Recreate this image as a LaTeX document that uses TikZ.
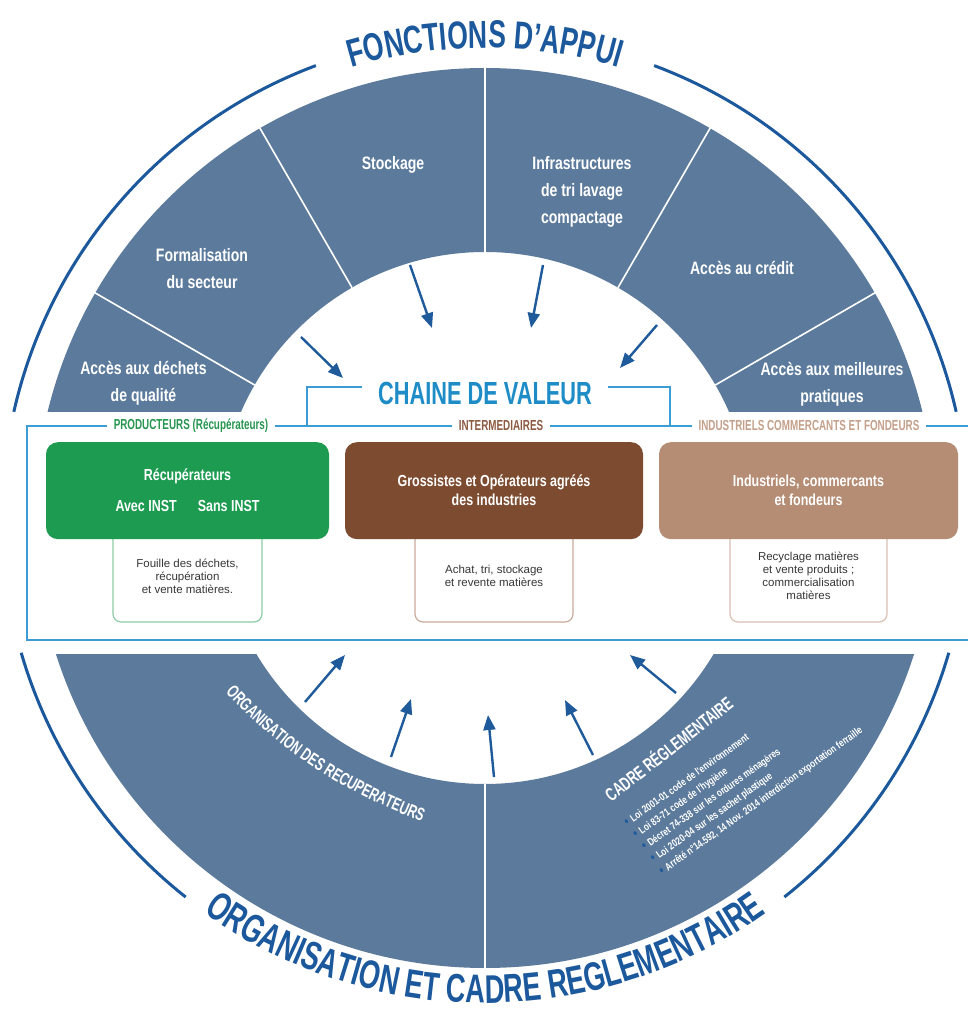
\documentclass[tikz,border=0pt]{standalone}
\usepackage{fontspec}
\setmainfont{Liberation Sans}
\newfontfamily\titlefont[FakeStretch=0.68]{Liberation Sans}
\newfontfamily\segfont[FakeStretch=0.78]{Liberation Sans}
\usepackage{tikz}
\usepackage{xcolor}
\usetikzlibrary{calc,positioning,arrows.meta,decorations.text}

\definecolor{bandblue}{RGB}{92,123,156}
\definecolor{titleblue}{RGB}{28,88,156}
\definecolor{arrowblue}{RGB}{31,90,155}
\definecolor{chainblue}{RGB}{30,140,198}
\definecolor{rectblue}{RGB}{60,156,212}
\definecolor{recgreen}{RGB}{29,155,80}
\definecolor{recgreenlt}{RGB}{140,203,165}
\definecolor{prodgreen}{RGB}{38,150,80}
\definecolor{grobrown}{RGB}{125,76,48}
\definecolor{grobrownlt}{RGB}{201,170,155}
\definecolor{interbrown}{RGB}{140,90,65}
\definecolor{indtan}{RGB}{181,140,116}
\definecolor{indtanlt}{RGB}{217,192,178}
\definecolor{indtantext}{RGB}{196,160,138}
\definecolor{notegray}{RGB}{55,55,55}

\newcommand\lawbul{{\color{arrowblue}\fontsize{14}{14}\selectfont\textbullet}\hspace{3pt}}

\begin{document}
\begin{tikzpicture}[x=1pt,y=1pt]
  \tikzstyle{band}=[fill=bandblue,even odd rule]
  \tikzstyle{divider}=[draw=white,line width=1.6pt]
  \tikzstyle{rim}=[draw=titleblue,line width=3pt]
  \tikzstyle{seg}=[text=white,align=center,font=\segfont\bfseries\fontsize{18}{27}\selectfont]
  \tikzstyle{arr}=[draw=arrowblue,line width=2.4pt,-{Triangle[length=15pt,width=12pt]}]
  \tikzstyle{stagelabel}=[fill=white,inner xsep=7pt,inner ysep=1pt,font=\titlefont\bfseries\fontsize{14.5}{15}\selectfont]
  \tikzstyle{card}=[rounded corners=12pt,text=white,align=center,minimum height=97pt,font=\segfont\bfseries\fontsize{16}{19}\selectfont]
  \tikzstyle{note}=[draw,line width=1.2pt,rounded corners=8pt,fill=white,text=notegray,align=center,minimum height=92pt,font=\fontsize{11.5}{13}\selectfont]

  \useasboundingbox (0,0) rectangle (968,1012);
  \fill[white] (0,0) rectangle (968,1012);
  \coordinate (C) at (485,494);

  % ring, upper half
  \begin{scope}
    \clip (0,600) rectangle (968,1012);
    \fill[band] (C) circle (450pt) (C) circle (266pt);
  \end{scope}
  % ring, lower half
  \begin{scope}
    \clip (0,0) rectangle (968,357);
    \fill[band] (C) circle (450pt) (C) circle (266pt);
  \end{scope}
  \draw[divider] ($(C)+(30:266pt)$) -- ($(C)+(30:452pt)$);
  \draw[divider] ($(C)+(60:266pt)$) -- ($(C)+(60:452pt)$);
  \draw[divider] ($(C)+(90:266pt)$) -- ($(C)+(90:452pt)$);
  \draw[divider] ($(C)+(120:266pt)$) -- ($(C)+(120:452pt)$);
  \draw[divider] ($(C)+(150:266pt)$) -- ($(C)+(150:452pt)$);
  \draw[divider] ($(C)+(270:266pt)$) -- ($(C)+(270:452pt)$);

  % thin outer rim
  \draw[rim] ($(C)+(110.5:483pt)$) arc[start angle=110.5,end angle=167.3,radius=483pt];
  \draw[rim] ($(C)+(69.5:483pt)$) arc[start angle=69.5,end angle=12.7,radius=483pt];
  \draw[rim] ($(C)+(196.2:483pt)$) arc[start angle=196.2,end angle=231.7,radius=483pt];
  \draw[rim] ($(C)+(343.8:483pt)$) arc[start angle=343.8,end angle=308.3,radius=483pt];

  % curved titles
  \path[decorate,decoration={text along path,text align=center,text color=titleblue,
      text={|\titlefont\bfseries\fontsize{39}{39}\selectfont|FONCTIONS D’APPUI}}]
    ($(C)+(130:470pt)$) arc[start angle=130,end angle=50,radius=470pt];
  \path[decorate,decoration={text along path,text align=center,text color=titleblue,
      text={|\titlefont\bfseries\fontsize{40}{40}\selectfont|ORGANISATION ET CADRE REGLEMENTAIRE}}]
    ($(C)+(200:485pt)$) arc[start angle=200,end angle=340,radius=485pt];

  % support functions
  \node[seg] (s1) at (143.5,628.5) {Accès aux déchets\\de qualité};
  \node[seg] (s2) at (202,743.5) {Formalisation\\du secteur};
  \node[seg] (s3) at (393,847) {Stockage};
  \node[seg] (s4) at (582,820) {Infrastructures\\de tri lavage\\compactage};
  \node[seg] (s5) at (742,744) {Accès au crédit};
  \node[seg] (s6) at (832,628) {Accès aux meilleures\\pratiques};

  % organisation and rules
  \path[decorate,decoration={text along path,text align=center,text color=white,
      text={|\titlefont\bfseries\fontsize{18}{18}\selectfont|ORGANISATION DES RECUPERATEURS}}]
    (218,328) .. controls (288,250) and (355,216) .. (432,186);
  \node[rotate=38,text=white,font=\titlefont\bfseries\fontsize{18.5}{18.5}\selectfont] (cr) at (668,264) {CADRE RÉGLEMENTAIRE};
  \node[rotate=35.5,anchor=north west,inner sep=0pt,align=left,text=white,
      font=\segfont\bfseries\fontsize{10.5}{15}\selectfont] (laws) at (623,192)
    {\lawbul Loi 2001-01 code de l'environnement\\
     \lawbul Loi 83-71 code de l'hygiène\\
     \lawbul Décret 74-338 sur les ordures ménagères\\
     \lawbul Loi 2020-04 sur les sachet plastique\\
     \lawbul Arrêté n°14.592, 14 Nov. 2014 interdiction exportation ferraille};

  % arrows into the chain
  \coordinate (u1) at (410,747); \coordinate (v1) at (432,684);
  \coordinate (u2) at (543,747); \coordinate (v2) at (531,684);
  \coordinate (u3) at (301,675); \coordinate (v3) at (343,634);
  \coordinate (u4) at (657,687); \coordinate (v4) at (620,644);
  \draw[arr] (u1) -- (v1);
  \draw[arr] (u2) -- (v2);
  \draw[arr] (u3) -- (v3);
  \draw[arr] (u4) -- (v4);
  \coordinate (l1) at (305,310); \coordinate (m1) at (345,357);
  \coordinate (l2) at (391,255); \coordinate (m2) at (411,313);
  \coordinate (l3) at (494,235); \coordinate (m3) at (488,297);
  \coordinate (l4) at (593,257); \coordinate (m4) at (565,312);
  \coordinate (l5) at (676,319); \coordinate (m5) at (630,357);
  \draw[arr] (l1) -- (m1);
  \draw[arr] (l2) -- (m2);
  \draw[arr] (l3) -- (m3);
  \draw[arr] (l4) -- (m4);
  \draw[arr] (l5) -- (m5);

  % value chain
  \node[draw=rectblue,line width=2pt,minimum width=948pt,minimum height=214pt] (chain) at (501,479) {};
  \node[inner sep=0pt,text=chainblue,font=\titlefont\bfseries\fontsize{32}{32}\selectfont] (cdv) at (485,618.5) {CHAINE DE VALEUR};
  \draw[draw=rectblue,line width=2.4pt] ([shift={(-16pt,6.5pt)}]cdv.west) -| ([xshift=-194pt]chain.north);
  \draw[draw=rectblue,line width=2.4pt] ([shift={(16pt,6.5pt)}]cdv.east) -| ([xshift=169pt]chain.north);
  \node[stagelabel,text=prodgreen] (h1) at (191,586) {PRODUCTEURS (Récupérateurs)};
  \node[stagelabel,text=interbrown] (h2) at (501,586) {INTERMEDIAIRES};
  \node[stagelabel,text=indtantext] (h3) at (809,586) {INDUSTRIELS COMMERCANTS ET FONDEURS};

  \node[note,draw=recgreenlt,minimum width=149pt] (n1) at (187.5,436) {Fouille des déchets,\\récupération\\et vente matières.};
  \node[card,fill=recgreen,minimum width=283pt,above=-10pt of n1] (c1) {Récupérateurs\\[12pt]Avec INST\hspace{21pt}Sans INST};
  \node[note,draw=grobrownlt,minimum width=158pt] (n2) at (494,436) {Achat, tri, stockage\\et revente matières};
  \node[card,fill=grobrown,minimum width=298pt,above=-10pt of n2] (c2) {Grossistes et Opérateurs agréés\\des industries};
  \node[note,draw=indtanlt,minimum width=157pt] (n3) at (808.5,436) {Recyclage matières\\et vente produits ;\\commercialisation\\matières};
  \node[card,fill=indtan,minimum width=299pt,above=-10pt of n3] (c3) {Industriels, commercants\\et fondeurs};
\end{tikzpicture}
\end{document}
